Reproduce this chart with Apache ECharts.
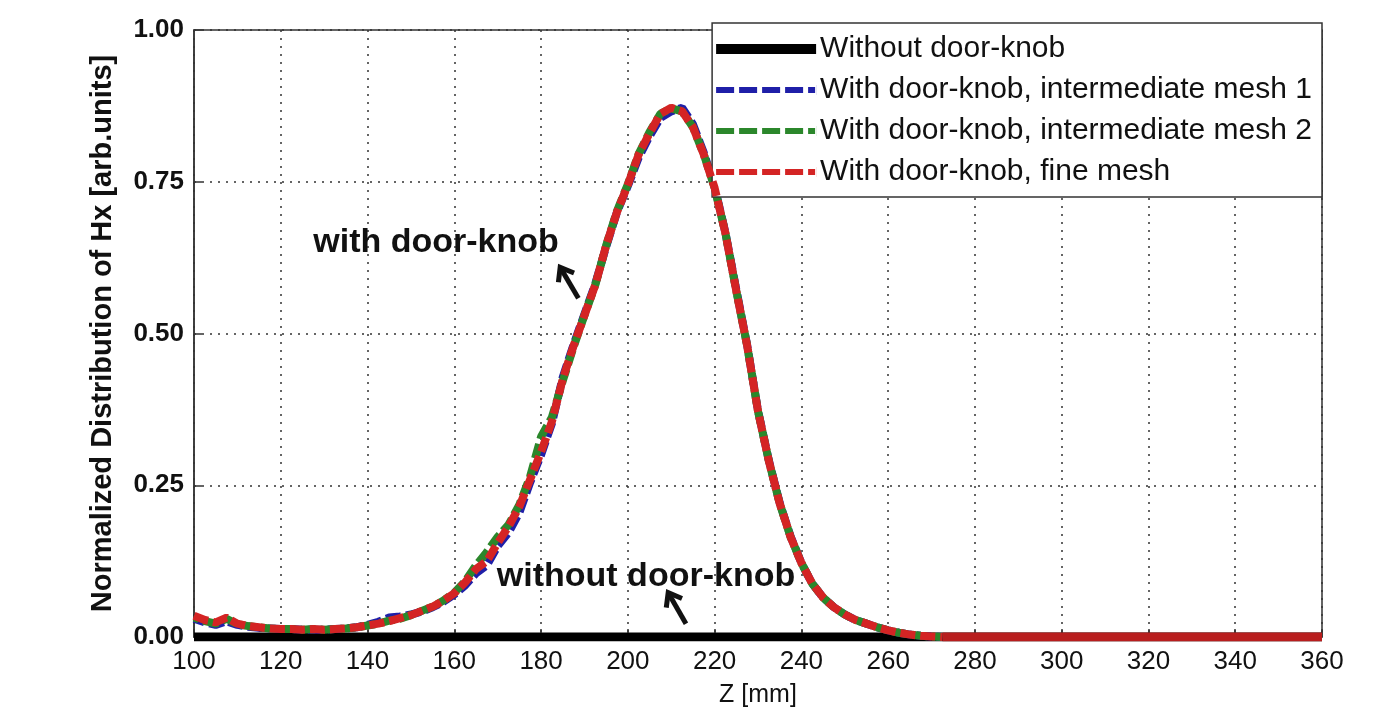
<!DOCTYPE html>
<html>
<head>
<meta charset="utf-8">
<title>Normalized Distribution of Hx</title>
<script src="https://cdn.jsdelivr.net/npm/echarts@6/dist/echarts.min.js"></script>
<style>
  html, body { margin: 0; padding: 0; background: #fff; }
  #chart { width: 1394px; height: 713px; }
</style>
</head>
<body>
<div id="chart"></div>
<script>
const zMain = [
  100, 102.5, 105, 107.5, 110, 112.5, 115, 117.5, 120, 122.5,
  125, 127.5, 130, 132.5, 135, 137.5, 140, 142.5, 145, 147.5,
  150, 152.5, 155, 157.5, 160, 162.5, 165, 167.5, 170, 172.5,
  175, 177.5, 180, 182.5, 185, 187.5, 190, 192.5, 195, 197.5,
  200, 202.5, 205, 207.5, 210, 212.5, 215, 217.5, 220, 222.5,
  225, 227.5, 230, 232.5, 235, 237.5, 240, 242.5, 245, 247.5,
  250, 252.5, 255, 257.5, 260, 262.5, 265, 267.5, 270, 272.5
]

// with door-knob, intermediate mesh 1
const hxMesh1 = [
  0.030, 0.024, 0.020, 0.026, 0.020, 0.017, 0.015, 0.014, 0.013, 0.013,
  0.012, 0.012, 0.012, 0.013, 0.014, 0.016, 0.020, 0.025, 0.032, 0.034,
  0.037, 0.042, 0.049, 0.058, 0.070, 0.085, 0.105, 0.118, 0.150, 0.172,
  0.205, 0.255, 0.300, 0.352, 0.428, 0.482, 0.532, 0.582, 0.643, 0.700,
  0.743, 0.790, 0.825, 0.855, 0.866, 0.872, 0.845, 0.798, 0.742, 0.666,
  0.572, 0.481, 0.373, 0.291, 0.221, 0.166, 0.122, 0.088, 0.065, 0.049,
  0.037, 0.028, 0.022, 0.016, 0.011, 0.007, 0.004, 0.002, 0.001, 0.000
]

// with door-knob, intermediate mesh 2
const hxMesh2 = [
  0.032, 0.026, 0.022, 0.030, 0.021, 0.018, 0.016, 0.014, 0.013, 0.013,
  0.012, 0.013, 0.012, 0.013, 0.014, 0.016, 0.019, 0.022, 0.027, 0.030,
  0.036, 0.043, 0.050, 0.060, 0.073, 0.092, 0.118, 0.140, 0.165, 0.185,
  0.218, 0.265, 0.330, 0.362, 0.422, 0.478, 0.530, 0.580, 0.645, 0.702,
  0.746, 0.796, 0.832, 0.862, 0.871, 0.866, 0.840, 0.795, 0.740, 0.665,
  0.570, 0.480, 0.372, 0.290, 0.220, 0.165, 0.122, 0.088, 0.065, 0.049,
  0.037, 0.028, 0.022, 0.016, 0.011, 0.007, 0.004, 0.002, 0.001, 0.000
]

// with door-knob, fine mesh
const hxFine = [
  0.035, 0.028, 0.024, 0.032, 0.022, 0.018, 0.016, 0.014, 0.013, 0.013,
  0.012, 0.013, 0.012, 0.013, 0.014, 0.016, 0.019, 0.022, 0.026, 0.031,
  0.036, 0.043, 0.050, 0.060, 0.072, 0.090, 0.112, 0.125, 0.155, 0.182,
  0.215, 0.260, 0.305, 0.355, 0.425, 0.480, 0.530, 0.580, 0.645, 0.700,
  0.745, 0.795, 0.830, 0.862, 0.872, 0.866, 0.840, 0.795, 0.740, 0.665,
  0.570, 0.480, 0.372, 0.290, 0.220, 0.165, 0.122, 0.088, 0.065, 0.049,
  0.037, 0.028, 0.022, 0.016, 0.011, 0.007, 0.004, 0.002, 0.001, 0.000
]

// fine mesh beyond the pulse (flat at zero up to the end of the domain)
const zTail = [272.5, 280, 300, 320, 340, 360]
const hxFineTail = [0, 0, 0, 0, 0, 0]

// without door-knob: practically zero everywhere
const zNoKnob = [100, 140, 180, 220, 260, 300, 360]
const hxNoKnob = [0, 0, 0, 0, 0, 0, 0]

const legendNames = [
  'Without door-knob',
  'With door-knob, intermediate mesh 1',
  'With door-knob, intermediate mesh 2',
  'With door-knob, fine mesh'
]

// text notes: [label, text z, text value, arrow head z, head value, arrow tail z, tail value]
const notes = [
  ['with door-knob', 127.5, 0.650, 184.4, 0.609, 188.6, 0.558],
  ['without door-knob', 169.8, 0.100, 209.3, 0.073, 213.4, 0.022]
]

const toPairs = (xs, ys) => xs.map((x, i) => [x, ys[i]])

const font = 'Liberation Sans, Arial, sans-serif'
const dash = [15, 5]

// legend swatches (solid bar / matlab style dashes); thin sliver keeps the box height
const solidIcon = 'path://M0,0H100V10H0Z'
const dashIcon = 'path://M0,2H18V8H0Z M23,2H41V8H23Z M46,2H64V8H46Z M69,2H87V8H69Z M92,2H99V8H92Z M99.9,0H100V10H99.9Z'

const chart = echarts.init(document.getElementById('chart'))

const option = {
  backgroundColor: '#fff',
  animation: false,
  textStyle: { fontFamily: font, color: '#111' },
  grid: {
    left: 194, right: 72, top: 30, bottom: 76,
    show: true, borderColor: '#333', borderWidth: 1.5,
    outerBoundsMode: 'none'
  },
  legend: {
    data: [
      { name: legendNames[0], icon: solidIcon },
      { name: legendNames[1], icon: dashIcon },
      { name: legendNames[2], icon: dashIcon },
      { name: legendNames[3], icon: dashIcon }
    ],
    orient: 'vertical',
    right: 72,
    top: 23,
    padding: [11, 10, 10, 4],
    itemGap: 11,
    itemWidth: 100,
    itemHeight: 10,
    backgroundColor: '#fff',
    borderColor: '#333',
    borderWidth: 1.5,
    borderRadius: 0,
    textStyle: { fontSize: 30, color: '#111', fontFamily: font, lineHeight: 30, padding: [0, 0, 0, -1] }
  },
  xAxis: {
    type: 'value',
    min: 100, max: 360, interval: 20,
    name: 'Z [mm]',
    nameLocation: 'middle',
    nameGap: 46,
    nameTextStyle: { fontSize: 25, color: '#111' },
    axisLine: { show: true, onZero: false, lineStyle: { color: '#333', width: 1.5 } },
    axisTick: { show: true, inside: true, length: 8, lineStyle: { color: '#333', width: 1.5 } },
    axisLabel: { fontSize: 26, color: '#111', margin: 12 },
    splitLine: { show: true, lineStyle: { color: '#333', width: 1.5, type: [2, 6] } }
  },
  yAxis: {
    type: 'value',
    min: 0, max: 1, interval: 0.25,
    name: 'Normalized Distribution of Hx [arb.units]',
    nameLocation: 'middle',
    nameGap: 77,
    nameTextStyle: { fontSize: 29, fontWeight: 'bold', color: '#111' },
    axisLine: { show: true, lineStyle: { color: '#333', width: 1.5 } },
    axisTick: { show: true, inside: true, length: 8, lineStyle: { color: '#333', width: 1.5 } },
    axisLabel: {
      fontSize: 26, fontWeight: 'bold', color: '#111', margin: 10,
      formatter: v => v.toFixed(2)
    },
    splitLine: { show: true, lineStyle: { color: '#333', width: 1.5, type: [2, 6] } }
  },
  series: [
    {
      name: legendNames[0],
      type: 'line',
      symbol: 'none',
      data: toPairs(zNoKnob, hxNoKnob),
      lineStyle: { color: '#000', width: 9 },
      itemStyle: { color: '#000' },
      z: 1
    },
    {
      name: legendNames[1],
      type: 'line',
      symbol: 'none',
      data: toPairs(zMain, hxMesh1),
      lineStyle: { color: '#1f1fa8', width: 8, type: dash, dashOffset: 4 },
      itemStyle: { color: '#1f1fa8' },
      z: 2
    },
    {
      name: legendNames[2],
      type: 'line',
      symbol: 'none',
      data: toPairs(zMain, hxMesh2),
      lineStyle: { color: '#2b872b', width: 8, type: dash, dashOffset: 10 },
      itemStyle: { color: '#2b872b' },
      z: 3
    },
    {
      name: legendNames[3],
      type: 'line',
      symbol: 'none',
      data: toPairs(zMain, hxFine),
      lineStyle: { color: '#d42424', width: 8, type: dash },
      itemStyle: { color: '#d42424' },
      z: 4
    },
    {
      name: legendNames[3],
      type: 'line',
      symbol: 'none',
      data: toPairs(zTail, hxFineTail),
      lineStyle: { color: '#b81e1e', width: 9 },
      itemStyle: { color: '#b81e1e' },
      z: 4
    }
  ]
}

chart.setOption(option)

// annotations: text + arrow, placed through the axes
function drawNotes () {
  const elements = []
  notes.forEach(n => {
    const t = chart.convertToPixel({ gridIndex: 0 }, [n[1], n[2]])
    const h = chart.convertToPixel({ gridIndex: 0 }, [n[3], n[4]])
    const s = chart.convertToPixel({ gridIndex: 0 }, [n[5], n[6]])
    elements.push({
      type: 'text',
      x: t[0], y: t[1],
      z: 20,
      style: {
        text: n[0], fill: '#111', font: 'bold 34px ' + font,
        textAlign: 'left', textVerticalAlign: 'middle'
      }
    })
    const ang = Math.atan2(s[1] - h[1], s[0] - h[0])
    const len = 15
    const a1 = [h[0] + len * Math.cos(ang + 0.65), h[1] + len * Math.sin(ang + 0.65)]
    const a2 = [h[0] + len * Math.cos(ang - 0.65), h[1] + len * Math.sin(ang - 0.65)]
    elements.push({
      type: 'polyline', z: 20,
      shape: { points: [s, h] },
      style: { stroke: '#111', lineWidth: 5, fill: null }
    })
    elements.push({
      type: 'polyline', z: 20,
      shape: { points: [a1, h, a2] },
      style: { stroke: '#111', lineWidth: 5, fill: null, lineJoin: 'miter' }
    })
  })
  chart.setOption({ graphic: elements })
}
drawNotes()

window.addEventListener('resize', function () {
  chart.resize()
  drawNotes()
})
</script>
</body>
</html>
